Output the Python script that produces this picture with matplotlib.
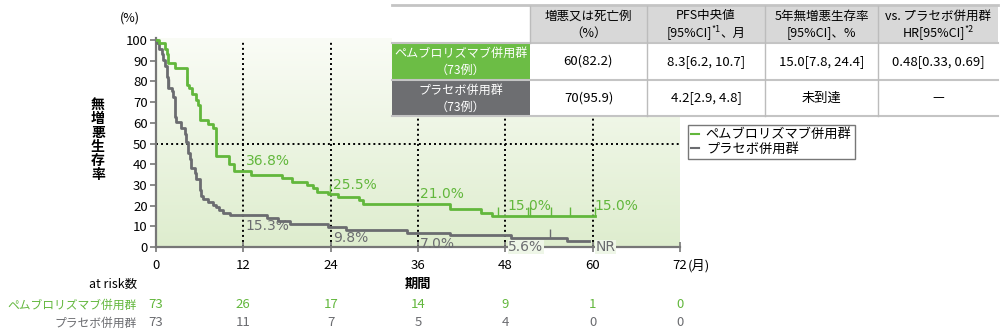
import numpy as np
import matplotlib
matplotlib.use("Agg")
from matplotlib import pyplot as plt
from matplotlib.patches import Rectangle
from matplotlib.lines import Line2D
from matplotlib.transforms import blended_transform_factory

plt.rcParams['font.family'] = ['Noto Sans CJK JP', 'DejaVu Sans']

# Kaplan-Meier steps (months, % progression-free)
pembro_t = [0, 0.45, 1.2, 1.45, 1.7, 2.6, 4.3, 4.6, 5.0, 5.5, 5.8, 6.1, 7.1, 7.9, 8.25,
            10.0, 10.7, 13.0, 17.3, 18.7, 20.7, 21.6, 22.1, 23.6, 25.0, 27.9, 28.4,
            40.4, 44.7, 46.1, 60.3]
pembro_s = [100, 98.6, 95.9, 93.2, 89.0, 86.3, 78.2, 76.8, 74.0, 71.2, 68.5, 61.6, 59.6,
            57.5, 44.0, 40.0, 36.8, 34.8, 33.2, 31.6, 30.0, 28.3, 26.7, 25.5, 24.2, 22.7,
            21.0, 18.2, 16.6, 15.0, 15.0]
pembro_cens = [4.3, 23.9, 47.0, 51.1, 51.4, 54.3, 56.9, 60.3]

placebo_t = [0, 0.1, 0.45, 0.77, 1.0, 1.22, 1.45, 1.68, 2.13, 2.36, 2.58, 2.67, 2.81,
             3.49, 3.94, 4.17, 4.39, 4.62, 4.85, 5.3, 5.53, 5.98, 6.2, 6.43, 7.1, 7.8,
             8.24, 8.7, 9.15, 10.1, 15.3, 16.8, 18.4, 23.6, 26.1, 34.5, 40.4, 48.8,
             56.5, 59.5]
placebo_s = [100, 98.6, 95.9, 93.2, 90.4, 87.7, 82.2, 76.7, 75.3, 72.6, 69.9, 63.0, 60.3,
             57.5, 54.8, 50.7, 45.2, 42.5, 38.4, 35.6, 32.9, 27.4, 24.7, 23.3, 21.9, 20.5,
             19.2, 17.8, 16.4, 15.3, 13.9, 12.5, 11.2, 9.8, 8.4, 7.0, 5.6, 4.2, 2.8, 2.8]
placebo_cens = [1.8, 54.1]

months = [0, 12, 24, 36, 48, 60, 72]
pembro_labels = ["36.8%", "25.5%", "21.0%", "15.0%", "15.0%"]
pembro_label_at = [12, 24, 36, 48, 60]
pembro_label_val = [36.8, 25.5, 21.0, 15.0, 15.0]
placebo_labels = ["15.3%", "9.8%", "7.0%", "5.6%", "NR"]
placebo_label_at = [12, 24, 36, 48, 60]
placebo_label_val = [15.3, 9.8, 7.0, 5.6, 2.8]

risk_pembro = [73, 26, 17, 14, 9, 1, 0]
risk_placebo = [73, 11, 7, 5, 4, 0, 0]

group_names = ["ペムブロリズマブ併用群", "プラセボ併用群"]
table_rows = [["60(82.2)", "8.3[6.2, 10.7]", "15.0[7.8, 24.4]", "0.48[0.33, 0.69]"],
              ["70(95.9)", "4.2[2.9, 4.8]", "未到達", "—"]]

GREEN = '#62b73c'
GRAY = '#6b6c70'
GREEN_CELL = '#6cbd45'
GRAY_CELL = '#6d6e71'

fig = plt.figure(figsize=(10, 3.36), dpi=100)
ax = fig.add_axes([0.156, 1 - 247 / 336, 0.524, (247 - 38) / 336])
ax.set_xlim(0, 72)
ax.set_ylim(0, 101)

# soft green backdrop fading upward
grad = np.linspace(0, 1, 256).reshape(-1, 1)
c_top = np.array([250, 252, 246]) / 255
c_bot = np.array([222, 237, 206]) / 255
img = c_bot + (c_top - c_bot) * grad[..., None]
ax.imshow(img, extent=[0, 72, 0, 101], origin='lower', aspect='auto', zorder=0)

dots = (0, (1, 1.6))
for m in months[1:-1]:
    ax.plot([m, m], [0, 100], color='black', lw=1.4, ls=dots, zorder=1)
ax.plot([0, 72], [50, 50], color='black', lw=1.4, ls=dots, zorder=1)

ax.step(placebo_t, placebo_s, where='post', color=GRAY, lw=2.0, zorder=3)
ax.step(pembro_t, pembro_s, where='post', color=GREEN, lw=2.0, zorder=4)


def km_value(t, s, x):
    i = np.searchsorted(t, x, side='right') - 1
    return s[i]


for c in pembro_cens:
    v = km_value(pembro_t, pembro_s, c)
    ax.vlines(c, v, v + 4.5, color=GREEN, lw=1.0, zorder=4)
for c in placebo_cens:
    v = km_value(placebo_t, placebo_s, c)
    ax.vlines(c, v, v + 4.5, color=GRAY, lw=1.0, zorder=3)

for lab, m, v in zip(pembro_labels, pembro_label_at, pembro_label_val):
    ax.text(m + 0.3, v + 1.3, lab, color=GREEN, fontsize=10, ha='left', va='bottom',
            family='DejaVu Sans', zorder=5)
bg = '#eef6e7'
for k, (lab, m, v) in enumerate(zip(placebo_labels, placebo_label_at, placebo_label_val)):
    if k >= 3:
        # these sit on the axis line, cutting through it
        ax.text(m + 0.4, 0, lab, color=GRAY, fontsize=10, ha='left', va='center',
                family='DejaVu Sans', zorder=5, clip_on=False,
                bbox=dict(facecolor=bg, edgecolor='none', pad=0.3))
    else:
        ax.text(m + 0.3, v - 2.0, lab, color=GRAY, fontsize=10, ha='left', va='top',
                family='DejaVu Sans', zorder=5)

for sp in ['top', 'right']:
    ax.spines[sp].set_visible(False)
for sp in ['left', 'bottom']:
    ax.spines[sp].set_color('#777777')
    ax.spines[sp].set_linewidth(1.6)
ax.set_xticks(months)
ax.set_xticklabels([str(m) for m in months], fontsize=9.5)
ax.set_yticks(range(0, 101, 10))
ax.set_yticklabels([str(v) for v in range(0, 101, 10)], fontsize=9.5)
ax.tick_params(axis='x', direction='inout', length=7, width=1.2, color='#777777', pad=5)
ax.tick_params(axis='y', direction='out', length=4, width=1.2, color='#777777', pad=2)

fig.text(0.688, 1 - 266 / 336, "(月)", fontsize=9.5, ha='left', va='center')
fig.text(0.130, 1 - 18 / 336, "(%)", fontsize=9, ha='center', va='center')
fig.text(0.098, 1 - 140 / 336, "\n".join("無増悪生存率"), fontsize=10, fontweight='bold',
         ha='center', va='center', linespacing=1.0)

# at-risk table under the x axis
bt = blended_transform_factory(ax.transData, fig.transFigure)
fig.text(0.137, 1 - 284 / 336, "at risk数", fontsize=9, ha='right', va='center')
ax.text(36, 1 - 284 / 336, "期間", transform=bt, fontsize=9.5, fontweight='bold',
        ha='center', va='center')
fig.text(0.137, 1 - 305 / 336, group_names[0], fontsize=8.5, color=GREEN, ha='right',
         va='center')
fig.text(0.137, 1 - 323 / 336, group_names[1], fontsize=8.5, color=GRAY, ha='right',
         va='center')
for m, a, b in zip(months, risk_pembro, risk_placebo):
    ax.text(m, 1 - 305 / 336, str(a), transform=bt, color=GREEN, fontsize=9.5,
            ha='center', va='center')
    ax.text(m, 1 - 323 / 336, str(b), transform=bt, color=GRAY, fontsize=9.5,
            ha='center', va='center')

fig.legend(handles=[Line2D([], [], color=GREEN, lw=1.5), Line2D([], [], color=GRAY, lw=1.5)],
           labels=group_names, loc='upper left', bbox_to_anchor=(0.688, 1 - 125 / 336),
           handlelength=0.6, handletextpad=0.5, fontsize=9.5, frameon=True, fancybox=False,
           edgecolor='#555555', borderpad=0.25, labelspacing=0.1, borderaxespad=0)

# summary table in pixel coordinates
tab = fig.add_axes([0, 0, 1, 1], zorder=10)
tab.set_xlim(0, 1000)
tab.set_ylim(336, 0)
tab.axis('off')

cols = [392, 530, 647, 765, 878, 998]
rows = [6, 43, 80, 116]
tab.add_patch(Rectangle((cols[0], rows[0]), cols[1] - cols[0], rows[1] - rows[0],
                        facecolor='white', edgecolor='none'))
tab.add_patch(Rectangle((cols[1], rows[0]), cols[-1] - cols[1], rows[1] - rows[0],
                        facecolor='#d8d8d8', edgecolor='none'))
tab.add_patch(Rectangle((cols[1], rows[1]), cols[-1] - cols[1], rows[3] - rows[1],
                        facecolor='white', edgecolor='none'))
tab.add_patch(Rectangle((cols[0], rows[1]), cols[1] - cols[0], rows[2] - rows[1],
                        facecolor=GREEN_CELL, edgecolor='none'))
tab.add_patch(Rectangle((cols[0], rows[2]), cols[1] - cols[0], rows[3] - rows[2],
                        facecolor=GRAY_CELL, edgecolor='none'))
tab.plot([cols[0], cols[-1]], [rows[0] - 1, rows[0] - 1], color='#c4c4c4', lw=2)
for r in rows[1:]:
    tab.plot([cols[0], cols[-1]], [r, r], color='#c4c4c4', lw=1.5)
for c in cols[2:-1]:
    tab.plot([c, c], [rows[0], rows[3]], color='#bcbcbc', lw=1)
tab.plot([cols[1], cols[1]], [rows[0], rows[1]], color='#bcbcbc', lw=1)

renderer = fig.canvas.get_renderer()


def rich_line(xc, y, parts, size=9):
    # parts: (text, scale, raise_px); centred as one line
    objs = []
    for s, sc, dy in parts:
        objs.append(tab.text(0, y - dy, s, fontsize=size * sc, ha='left', va='center'))
    widths = [o.get_window_extent(renderer).width for o in objs]
    x = xc - sum(widths) / 2
    for o, w in zip(objs, widths):
        o.set_x(x)
        x += w


heads = [
    [[("増悪又は死亡例", 1, 0)], [("（%）", 1, 0)]],
    [[("PFS中央値", 1, 0)], [("[95%CI]", 1, 0), ("*1", 0.7, 4), ("、月", 1, 0)]],
    [[("5年無増悪生存率", 1, 0)], [("[95%CI]、%", 1, 0)]],
    [[("vs. プラセボ併用群", 1, 0)], [("HR[95%CI]", 1, 0), ("*2", 0.7, 4)]],
]
for j, (l1, l2) in enumerate(heads):
    xc = (cols[j + 1] + cols[j + 2]) / 2
    rich_line(xc, 16, l1)
    rich_line(xc, 33, l2)

xc0 = (cols[0] + cols[1]) / 2
for i, name in enumerate(group_names):
    y0 = (rows[i + 1] + rows[i + 2]) / 2
    tab.text(xc0, y0 - 8, name, color='white', fontsize=8.7, ha='center', va='center')
    tab.text(xc0, y0 + 9, "（73例）", color='white', fontsize=8.7, ha='center', va='center')
    for j, val in enumerate(table_rows[i]):
        xc = (cols[j + 1] + cols[j + 2]) / 2
        tab.text(xc, y0, val, fontsize=9.5, ha='center', va='center')

fig.savefig("out.png", dpi=100)
